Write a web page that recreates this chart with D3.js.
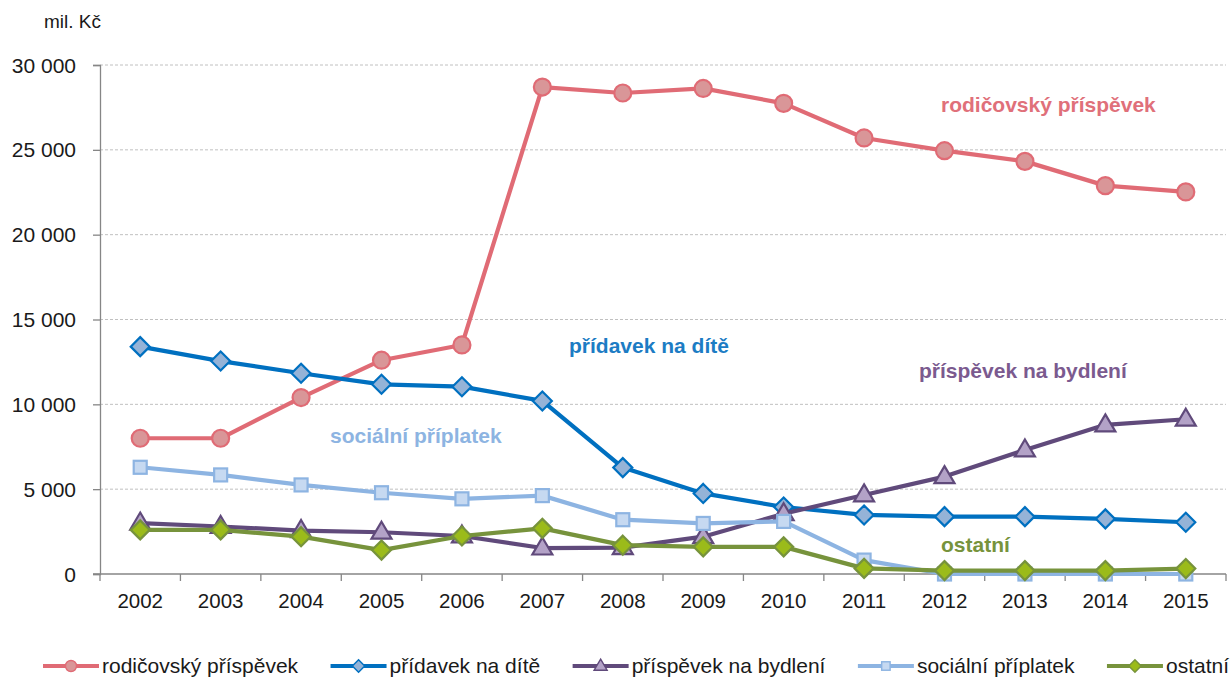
<!DOCTYPE html>
<html>
<head>
<meta charset="utf-8">
<script src="https://cdn.jsdelivr.net/npm/d3@7"></script>
<style>
  html, body { margin: 0; padding: 0; background: #fff; }
  svg { display: block; font-family: "Liberation Sans", Arial, sans-serif; }
</style>
</head>
<body>
<svg id="chart" width="1230" height="677"></svg>
<script>
// Years on the horizontal axis
const years = ["2002","2003","2004","2005","2006","2007","2008","2009","2010","2011","2012","2013","2014","2015"];

// Expenditure per benefit, mil. Kč
const rodicovskyPrispevek = [8000, 8000, 10400, 12600, 13500, 28700, 28350, 28620, 27740, 25700, 24950, 24320, 22890, 22520];
const pridavekNaDite      = [13400, 12550, 11830, 11180, 11040, 10200, 6270, 4750, 3950, 3480, 3380, 3380, 3250, 3050];
const prispevekNaBydleni  = [3000, 2800, 2560, 2460, 2240, 1530, 1550, 2200, 3550, 4660, 5740, 7310, 8790, 9120];
const socialniPriplatek   = [6290, 5840, 5250, 4790, 4430, 4620, 3200, 2980, 3100, 820, 0, 0, 0, 0];
const ostatni             = [2600, 2600, 2200, 1410, 2240, 2690, 1700, 1600, 1600, 330, 200, 200, 200, 320];

const yTicks = [0, 5000, 10000, 15000, 20000, 25000, 30000];
const seriesNames = ["rodičovský příspěvek", "přídavek na dítě", "příspěvek na bydlení", "sociální příplatek", "ostatní"];

const series = [
  { name: seriesNames[0], values: rodicovskyPrispevek, line: "#e06b75", fill: "#d99698", stroke: "#e06b75", marker: "circle",
    label: { x: 941, y: 112, color: "#e0707a" } },
  { name: seriesNames[1], values: pridavekNaDite, line: "#0070c0", fill: "#95b3d7", stroke: "#0070c0", marker: "diamond",
    label: { x: 569, y: 353, color: "#1c7cc4" } },
  { name: seriesNames[2], values: prispevekNaBydleni, line: "#604a7b", fill: "#b3a2c7", stroke: "#604a7b", marker: "triangle",
    label: { x: 919, y: 378, color: "#7b5a8f" } },
  { name: seriesNames[3], values: socialniPriplatek, line: "#8db4e2", fill: "#c6d9f1", stroke: "#8db4e2", marker: "square",
    label: { x: 330, y: 443, color: "#8db4e2" } },
  { name: seriesNames[4], values: ostatni, line: "#77933c", fill: "#9bbb1a", stroke: "#77933c", marker: "diamond",
    label: { x: 941, y: 552, color: "#77933c" } }
];

const svg = d3.select("#chart");
const plot = { left: 100, right: 1226, top: 65, bottom: 574 };

const x = d3.scaleBand().domain(years).range([plot.left, plot.right]).paddingInner(0).paddingOuter(0);
const y = d3.scaleLinear().domain([0, 30000]).range([plot.bottom, plot.top]);
const cx = d => x(d) + x.bandwidth() / 2;

// Dashed horizontal gridlines
svg.append("g")
  .selectAll("line")
  .data(yTicks.filter(t => t > 0))
  .join("line")
  .attr("x1", plot.left).attr("x2", plot.right)
  .attr("y1", d => y(d)).attr("y2", d => y(d))
  .attr("stroke", "#c0c0c0").attr("stroke-width", 1).attr("stroke-dasharray", "3,2");

// Y axis
const yAxis = d3.axisLeft(y).tickValues(yTicks).tickSize(7).tickPadding(17)
  .tickFormat(d => d3.format(",")(d).replace(/,/g, " "));
const gy = svg.append("g").attr("transform", `translate(${plot.left},0)`).call(yAxis);
gy.select(".domain").attr("stroke", "#868686").attr("stroke-width", 1.3);
gy.selectAll(".tick line").attr("stroke", "#868686").attr("stroke-width", 1.3);
gy.selectAll(".tick text").attr("font-size", 21).attr("fill", "#1a1a1a").attr("dy", "0.34em");

// X axis: baseline, tick marks at category boundaries, labels centred
svg.append("line")
  .attr("x1", plot.left - 7).attr("x2", plot.right)
  .attr("y1", plot.bottom).attr("y2", plot.bottom)
  .attr("stroke", "#868686").attr("stroke-width", 1.3);
const boundaries = years.map(d => x(d)).concat([plot.right]);
svg.append("g").selectAll("line").data(boundaries).join("line")
  .attr("x1", d => d).attr("x2", d => d)
  .attr("y1", plot.bottom).attr("y2", plot.bottom + 7)
  .attr("stroke", "#868686").attr("stroke-width", 1.3);
svg.append("g").selectAll("text").data(years).join("text")
  .attr("x", d => cx(d)).attr("y", 608)
  .attr("text-anchor", "middle")
  .attr("font-size", 20.5).attr("fill", "#1a1a1a")
  .text(d => d);

// Unit label
svg.append("text").attr("x", 44).attr("y", 28)
  .attr("font-size", 19).attr("fill", "#1a1a1a").text("mil. Kč");

// Marker shapes
function drawMarker(g, type, px, py, s, scale = 1) {
  if (type === "circle") {
    return g.append("circle").attr("cx", px).attr("cy", py).attr("r", 8.5 * scale)
      .attr("fill", s.fill).attr("stroke", s.stroke).attr("stroke-width", 2.2 * scale);
  }
  if (type === "diamond") {
    const r = 9.5 * scale;
    return g.append("path").attr("d", `M${px},${py - r}L${px + r},${py}L${px},${py + r}L${px - r},${py}Z`)
      .attr("fill", s.fill).attr("stroke", s.stroke).attr("stroke-width", 2.2 * scale);
  }
  if (type === "triangle") {
    const w = 10 * scale, h = 17 * scale;
    return g.append("path")
      .attr("d", `M${px},${py - h * 0.62}L${px + w},${py + h * 0.38}L${px - w},${py + h * 0.38}Z`)
      .attr("fill", s.fill).attr("stroke", s.stroke).attr("stroke-width", 2.2 * scale);
  }
  if (type === "square") {
    const r = 6.5 * scale;
    return g.append("rect").attr("x", px - r).attr("y", py - r).attr("width", 2 * r).attr("height", 2 * r)
      .attr("fill", s.fill).attr("stroke", s.stroke).attr("stroke-width", 2.2 * scale);
  }
}

// Series lines and markers
const line = d3.line().x((d, i) => cx(years[i])).y(d => y(d));
series.forEach(s => {
  const g = svg.append("g");
  g.append("path").datum(s.values).attr("d", line)
    .attr("fill", "none").attr("stroke", s.line).attr("stroke-width", 4.2)
    .attr("stroke-linejoin", "round").attr("stroke-linecap", "round");
  s.values.forEach((v, i) => drawMarker(g, s.marker, cx(years[i]), y(v), s));
});

// Direct labels inside the plot
series.forEach(s => {
  svg.append("text").attr("x", s.label.x).attr("y", s.label.y)
    .attr("font-size", 21).attr("font-weight", "bold").attr("fill", s.label.color)
    .text(s.name);
});

// Legend along the bottom
const legend = svg.append("g");
const legendY = 666, segLen = 56, textGap = 3;
const items = series.map(s => {
  const g = legend.append("g");
  const t = g.append("text").attr("font-size", 21).attr("fill", "#1a1a1a")
    .attr("y", legendY + 7).text(s.name);
  return { s, g, t, w: t.node().getComputedTextLength() };
});
const legendLeft = 43, legendRight = 1229;
const totalW = d3.sum(items, d => segLen + textGap + d.w);
const gap = (legendRight - legendLeft - totalW) / (items.length - 1);
let lx = legendLeft;
items.forEach(it => {
  it.g.insert("line", "text").attr("x1", lx).attr("x2", lx + segLen)
    .attr("y1", legendY).attr("y2", legendY)
    .attr("stroke", it.s.line).attr("stroke-width", 4.2);
  drawMarker(it.g, it.s.marker, lx + segLen / 2, legendY, it.s, 0.65);
  it.t.attr("x", lx + segLen + textGap);
  lx += segLen + textGap + it.w + gap;
});
</script>
</body>
</html>
